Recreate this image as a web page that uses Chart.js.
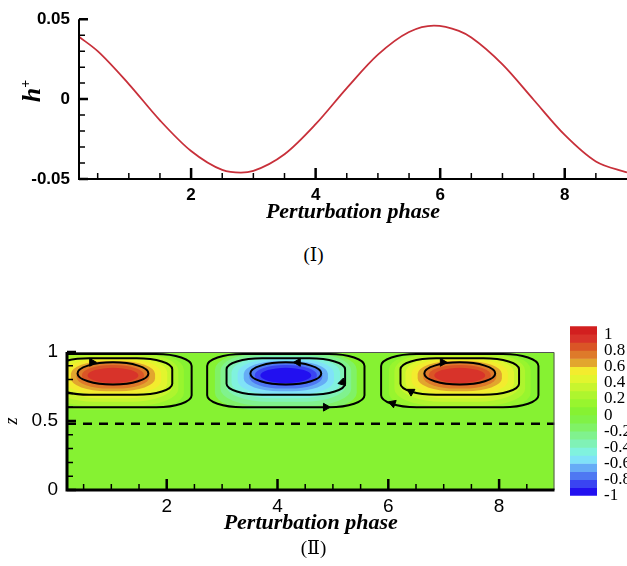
<!DOCTYPE html>
<html>
<head>
<meta charset="utf-8">
<script src="https://cdn.jsdelivr.net/npm/chart.js@4.4.1/dist/chart.umd.min.js"></script>
<style>
  body { margin: 0; background: #fff; }
  #fig { position: relative; width: 627px; height: 566px; overflow: hidden; }
  #fig canvas, .lbl { position: absolute; }
  .cap { left: 0; width: 627px; text-align: center; font-family: "Liberation Serif", "DejaVu Serif", serif; font-size: 19px; }
  #hLabel { left: -4px; top: 76px; width: 60px; height: 30px; line-height: 30px; text-align: center;
            transform: rotate(-90deg); font-family: "Liberation Serif", serif; font-size: 26px; font-weight: bold; font-style: italic; }
  #hLabel sup { font-size: 14px; font-style: normal; }
</style>
</head>
<body>
<div id="fig">
  <canvas id="chartH" width="627" height="240" style="left:0;top:0"></canvas>
  <div class="lbl" id="hLabel">h<sup>+</sup></div>
  <div class="lbl cap" style="top:243px">(Ⅰ)</div>
  <canvas id="chartField" width="560" height="236" style="left:0;top:330px"></canvas>
  <canvas id="chartBar" width="90" height="204" style="left:570px;top:309px"></canvas>
  <div class="lbl cap" style="top:536px">(Ⅱ)</div>
</div>
<script>
// ---------- panel (I): interface height vs phase ----------
const phaseI = [0.2, 0.5, 1.0, 1.5, 2.0, 2.5, 2.8, 3.0, 3.5, 4.0, 4.5, 5.0, 5.5, 5.9, 6.3, 6.5, 7.0, 7.5, 8.0, 8.5, 9.0];
const hPlus = [0.0390, 0.0300, 0.0094, -0.0133, -0.0325, -0.0443, -0.0460, -0.0449, -0.0345, -0.0157, 0.0069,
               0.0278, 0.0420, 0.0460, 0.0427, 0.0385, 0.0217, -0.0004, -0.0224, -0.0390, -0.0459];
const phaseTicks = [2, 4, 6, 8];
const phaseMinor = [0.5, 1, 1.5, 2.5, 3, 3.5, 4.5, 5, 5.5, 6.5, 7, 7.5, 8.5];
const hTicks = [-0.05, 0, 0.05];
const hMinor = [-0.04, -0.03, -0.02, -0.01, 0.01, 0.02, 0.03, 0.04];

// ---------- panel (II): contour field ----------
const zTicks = [0, 0.5, 1];
const zMinor = [0.1, 0.2, 0.3, 0.4, 0.6, 0.7, 0.8, 0.9];
const vortexPhase = [1.03, 4.15, 7.29];
const vortexSign = [1, -1, 1];
// contour bands |value| >= level, extents
const bandLevels = [0.1, 0.2, 0.3, 0.4, 0.5, 0.6, 0.7, 0.8, 0.9];
const bandHalfWidth = [1.28, 1.18, 1.08, 0.98, 0.87, 0.76, 0.66, 0.56, 0.46];
const bandTopZ = [0.997, 0.99, 0.975, 0.965, 0.95, 0.935, 0.92, 0.905, 0.885];
const bandBottomZ = [0.58, 0.61, 0.64, 0.665, 0.69, 0.715, 0.735, 0.755, 0.775];
// streamlines around each vortex: inner, middle, outer
const loopHalfWidth = [0.64, 1.07, 1.42];
const loopTopZ = [0.925, 0.955, 0.985];
const loopBottomZ = [0.765, 0.69, 0.60];
// arrow heads on the streamlines
const arrowPhase = [0.65, 4.37, 5.17, 4.87, 6.98, 6.41, 6.08];
const arrowZ = [0.925, 0.925, 0.78, 0.60, 0.925, 0.713, 0.628];
const arrowAngle = [90, 270, 15, 90, 90, 300, 290];
const interfaceZ = 0.48;

// ---------- colour legend ----------
const legendTop = [1.1, 1.0, 0.9, 0.8, 0.7, 0.6, 0.5, 0.4, 0.3, 0.2, 0.1, 0.0, -0.1, -0.2, -0.3, -0.4, -0.5, -0.6, -0.7, -0.8, -0.9];
const legendTicks = [1, 0.8, 0.6, 0.4, 0.2, 0, -0.2, -0.4, -0.6, -0.8, -1];
const legendColors = ['#d21f1f', '#d8332a', '#da5526', '#de7a2a', '#e2a62e', '#f3ec2e', '#e2f52e', '#c8f52e',
                      '#aef52e', '#98f52e', '#86f232', '#80f246', '#80f266', '#80f28e', '#80f2b6', '#80f2de',
                      '#80e2f8', '#66acf6', '#4e78f2', '#3a44f2', '#2210f0'];

function colorFor(v) {
  if (v > 0) return legendColors[10 - Math.round(v * 10)];
  if (v < 0) return legendColors[11 + Math.round(-v * 10)];
  return legendColors[10];
}

function roundedBox(ctx, x0, y0, x1, y1, k) {
  const rx = (x1 - x0) / 2 * k, ry = (y1 - y0) / 2 * k;
  ctx.beginPath();
  ctx.moveTo(x0 + rx, y0);
  ctx.lineTo(x1 - rx, y0);
  ctx.ellipse(x1 - rx, y0 + ry, rx, ry, 0, -Math.PI / 2, 0);
  ctx.lineTo(x1, y1 - ry);
  ctx.ellipse(x1 - rx, y1 - ry, rx, ry, 0, 0, Math.PI / 2);
  ctx.lineTo(x0 + rx, y1);
  ctx.ellipse(x0 + rx, y1 - ry, rx, ry, 0, Math.PI / 2, Math.PI);
  ctx.lineTo(x0, y0 + ry);
  ctx.ellipse(x0 + rx, y0 + ry, rx, ry, 0, Math.PI, Math.PI * 1.5);
  ctx.closePath();
}

// flood contours + streamlines, drawn under the datasets
const contourPlugin = {
  id: 'contourField',
  beforeDatasetsDraw(chart) {
    const { ctx, chartArea: a, scales: { x, y } } = chart;
    ctx.save();
    ctx.beginPath();
    ctx.rect(a.left, a.top, a.right - a.left, a.bottom - a.top);
    ctx.clip();
    ctx.fillStyle = colorFor(0);
    ctx.fillRect(a.left, a.top, a.right - a.left, a.bottom - a.top);
    vortexPhase.forEach((xc, k) => {
      bandLevels.forEach((lev, i) => {
        ctx.fillStyle = colorFor(vortexSign[k] * lev);
        roundedBox(ctx, x.getPixelForValue(xc - bandHalfWidth[i]), y.getPixelForValue(bandTopZ[i]),
                   x.getPixelForValue(xc + bandHalfWidth[i]), y.getPixelForValue(bandBottomZ[i]),
                   0.6 + 0.4 * i / (bandLevels.length - 1));
        ctx.fill();
      });
    });
    ctx.strokeStyle = '#000';
    ctx.lineWidth = 2;
    const loopRound = [1, 0.6, 0.45];
    vortexPhase.forEach(xc => {
      loopHalfWidth.forEach((hw, i) => {
        roundedBox(ctx, x.getPixelForValue(xc - hw), y.getPixelForValue(loopTopZ[i]),
                   x.getPixelForValue(xc + hw), y.getPixelForValue(loopBottomZ[i]), loopRound[i]);
        ctx.stroke();
      });
    });
    ctx.restore();
  }
};

// inward tick marks and axis lines
function axisFrame(spec) {
  return {
    id: 'axisFrame',
    afterDraw(chart) {
      const { ctx, chartArea: a, scales: { x, y } } = chart;
      ctx.save();
      if (spec.thinFrame) {
        ctx.strokeStyle = '#555';
        ctx.lineWidth = 1;
        ctx.beginPath();
        ctx.moveTo(a.left, a.top + 0.5);
        ctx.lineTo(a.right - 0.5, a.top + 0.5);
        ctx.lineTo(a.right - 0.5, a.bottom);
        ctx.stroke();
      }
      ctx.strokeStyle = '#000';
      ctx.lineWidth = spec.axisWidth;
      ctx.beginPath();
      ctx.moveTo(a.left, a.top);
      ctx.lineTo(a.left, a.bottom);
      ctx.lineTo(a.right, a.bottom);
      ctx.stroke();
      const xt = (vals, len, w) => {
        ctx.lineWidth = w;
        ctx.beginPath();
        vals.forEach(v => { const p = x.getPixelForValue(v); ctx.moveTo(p, a.bottom); ctx.lineTo(p, a.bottom - len); });
        ctx.stroke();
      };
      const yt = (vals, len, w) => {
        ctx.lineWidth = w;
        ctx.beginPath();
        vals.forEach(v => { const p = y.getPixelForValue(v); ctx.moveTo(a.left, p); ctx.lineTo(a.left + len, p); });
        ctx.stroke();
      };
      xt(spec.xMajor, 11, 2.5);
      xt(spec.xMinor, 6, 1.5);
      yt(spec.yMajor, 9, 2.5);
      yt(spec.yMinor, 6, 1.5);
      ctx.restore();
    }
  };
}

const sansBold = { family: 'Liberation Sans, Arial, sans-serif', size: 17, weight: 'bold' };
const sansReg = { family: 'Liberation Sans, Arial, sans-serif', size: 19 };
const titleFont = { family: 'Liberation Serif, Times New Roman, serif', size: 22, weight: 'bold', style: 'italic' };
const fixedTicks = vals => s => { s.ticks = vals.map(v => ({ value: v })); };

new Chart(document.getElementById('chartH'), {
  type: 'scatter',
  data: {
    datasets: [{
      data: phaseI.map((p, i) => ({ x: p, y: hPlus[i] })),
      showLine: true,
      borderColor: '#c8303a',
      borderWidth: 1.8,
      pointRadius: 0,
      cubicInterpolationMode: 'monotone'
    }]
  },
  options: {
    responsive: false, animation: false, events: [],
    layout: { padding: { top: 17, right: 0, left: 0, bottom: 0 } },
    plugins: { legend: { display: false }, tooltip: { enabled: false } },
    scales: {
      x: {
        type: 'linear', min: 0.2, max: 9.0,
        grid: { display: false, drawTicks: false }, border: { display: false },
        afterBuildTicks: fixedTicks(phaseTicks),
        afterFit: s => { s.height = 61; },
        ticks: { padding: 6, color: '#000', font: sansBold, callback: v => String(v), maxRotation: 0 },
        title: { display: true, text: 'Perturbation phase', color: '#000', font: titleFont, padding: { top: 0, bottom: 14 } }
      },
      y: {
        min: -0.05, max: 0.05,
        grid: { display: false, drawTicks: false }, border: { display: false },
        afterBuildTicks: fixedTicks(hTicks),
        afterFit: s => { s.width = 79; },
        ticks: { padding: 9, color: '#000', font: sansBold, callback: v => String(v) }
      }
    }
  },
  plugins: [axisFrame({ axisWidth: 2, xMajor: phaseTicks, xMinor: phaseMinor, yMajor: hTicks, yMinor: hMinor })]
});

new Chart(document.getElementById('chartField'), {
  type: 'scatter',
  data: {
    datasets: [
      {
        data: [{ x: 0.2, y: interfaceZ }, { x: 9.0, y: interfaceZ }],
        showLine: true, borderColor: '#000', borderWidth: 2.5, borderDash: [9, 7], pointRadius: 0
      },
      {
        data: arrowPhase.map((p, i) => ({ x: p, y: arrowZ[i] })),
        pointStyle: 'triangle', pointRadius: 4.5,
        pointRotation: c => arrowAngle[c.dataIndex],
        backgroundColor: '#000', borderColor: '#000', borderWidth: 1
      }
    ]
  },
  options: {
    responsive: false, animation: false, events: [],
    layout: { padding: { top: 22, right: 5, left: 0, bottom: 0 } },
    plugins: { legend: { display: false }, tooltip: { enabled: false } },
    scales: {
      x: {
        type: 'linear', min: 0.2, max: 9.0,
        grid: { display: false, drawTicks: false }, border: { display: false },
        afterBuildTicks: fixedTicks(phaseTicks),
        afterFit: s => { s.height = 76; },
        ticks: { padding: 5, color: '#000', font: sansReg, callback: v => String(v), maxRotation: 0 },
        title: { display: true, text: 'Perturbation phase', color: '#000', font: titleFont, padding: { top: 0, bottom: 29 } }
      },
      y: {
        min: 0, max: 1,
        grid: { display: false, drawTicks: false }, border: { display: false },
        afterBuildTicks: fixedTicks(zTicks),
        afterFit: s => { s.width = 67; },
        ticks: { padding: 9, color: '#000', font: sansReg, callback: v => String(v) },
        title: { display: true, text: 'z', color: '#000', padding: { top: 1, bottom: 0 },
                 font: { family: 'Liberation Serif, Times New Roman, serif', size: 18, style: 'italic' } }
      }
    }
  },
  plugins: [contourPlugin, axisFrame({ axisWidth: 3, thinFrame: true, xMajor: phaseTicks, xMinor: phaseMinor, yMajor: zTicks, yMinor: zMinor })]
});

new Chart(document.getElementById('chartBar'), {
  type: 'bar',
  data: {
    labels: [''],
    datasets: legendTop.map((hi, i) => ({
      data: [[Math.round((hi - 0.1) * 10) / 10, hi]],
      backgroundColor: legendColors[i], borderWidth: 0,
      barPercentage: 1, categoryPercentage: 1, grouped: false
    }))
  },
  options: {
    responsive: false, animation: false, events: [],
    layout: { padding: { top: 10, bottom: 10, left: 0, right: 0 } },
    plugins: { legend: { display: false }, tooltip: { enabled: false } },
    scales: {
      x: { display: false },
      y: {
        position: 'right', min: -1, max: 1.1,
        grid: { display: false, drawTicks: false }, border: { display: false },
        afterBuildTicks: fixedTicks(legendTicks),
        afterFit: s => { s.width = 63; },
        ticks: { padding: 7, autoSkip: false, color: '#000', font: { family: 'Liberation Serif, Times New Roman, serif', size: 17 }, callback: v => String(v) }
      }
    }
  }
});
</script>
</body>
</html>
